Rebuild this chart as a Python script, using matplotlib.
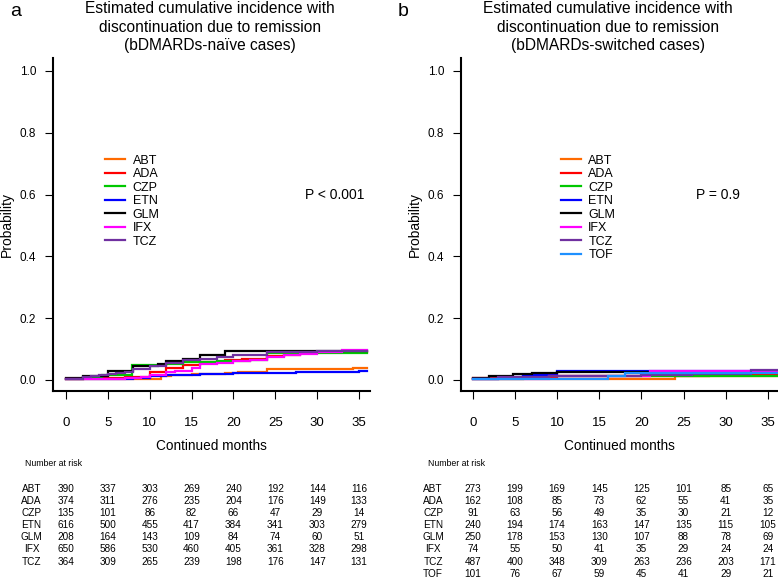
import matplotlib
matplotlib.use("Agg")
import matplotlib.pyplot as plt
import matplotlib.transforms as mtransforms

plt.rcParams['font.family'] = ['Liberation Sans', 'DejaVu Sans']

# ---- data ----
months_ticks = [0, 5, 10, 15, 20, 25, 30, 35]
prob_ticks = [0.0, 0.2, 0.4, 0.6, 0.8, 1.0]

drugs_a = ["ABT", "ADA", "CZP", "ETN", "GLM", "IFX", "TCZ"]
drugs_b = ["ABT", "ADA", "CZP", "ETN", "GLM", "IFX", "TCZ", "TOF"]

colors = {"ABT": "#FF6A00", "ADA": "#FF0000", "CZP": "#00C800", "ETN": "#0000FF",
          "GLM": "#000000", "IFX": "#FF00FF", "TCZ": "#7030A0", "TOF": "#1E90FF"}

# naive cases: step times (months) and cumulative incidence
abt_a_t = [0, 11.3, 12.5, 15, 19, 20.5, 24, 34.3]
abt_a_p = [0.002, 0.011, 0.016, 0.02, 0.022, 0.025, 0.036, 0.04]
ada_a_t = [0, 2, 7, 10, 12, 14, 16, 19, 21, 24, 26, 28]
ada_a_p = [0.002, 0.005, 0.01, 0.024, 0.039, 0.048, 0.058, 0.063, 0.068, 0.076, 0.081, 0.09]
czp_a_t = [0, 2, 4.3, 7.9, 12, 14, 18, 22, 24]
czp_a_p = [0.002, 0.008, 0.016, 0.049, 0.053, 0.058, 0.061, 0.065, 0.086]
etn_a_t = [0, 5, 8, 10, 12, 16, 20, 27.5, 35]
etn_a_p = [0.002, 0.004, 0.007, 0.011, 0.016, 0.019, 0.021, 0.025, 0.03]
glm_a_t = [0, 2, 5, 8, 11, 12, 14, 16, 19]
glm_a_p = [0.005, 0.012, 0.03, 0.044, 0.05, 0.06, 0.068, 0.08, 0.094]
ifx_a_t = [0, 7, 9, 10, 12, 13, 15, 16, 18, 20, 22, 24, 26, 28, 30, 33]
ifx_a_p = [0.002, 0.005, 0.01, 0.015, 0.025, 0.03, 0.04, 0.05, 0.055, 0.06, 0.065, 0.075, 0.08, 0.085, 0.09, 0.098]
tcz_a_t = [0, 1, 2, 3, 4, 5, 6, 7, 8, 10, 12, 14, 16, 18, 20, 24, 30]
tcz_a_p = [0.002, 0.004, 0.008, 0.012, 0.015, 0.018, 0.022, 0.026, 0.036, 0.045, 0.055, 0.063,
           0.068, 0.074, 0.081, 0.09, 0.095]

# switched cases
abt_b_t = [0, 24]
abt_b_p = [0.003, 0.012]
ada_b_t = [0, 10, 28]
ada_b_p = [0.006, 0.012, 0.018]
czp_b_t = [0, 6, 26]
czp_b_p = [0.004, 0.012, 0.013]
etn_b_t = [0, 3, 6, 10]
etn_b_p = [0.003, 0.008, 0.015, 0.028]
glm_b_t = [0, 1.9, 4.8, 7, 10]
glm_b_p = [0.006, 0.014, 0.019, 0.022, 0.025]
ifx_b_t = [0, 9, 21]
ifx_b_p = [0.003, 0.012, 0.030]
tcz_b_t = [0, 3, 9, 20, 26, 33]
tcz_b_p = [0.003, 0.008, 0.012, 0.016, 0.018, 0.033]
tof_b_t = [0, 16, 18]
tof_b_p = [0.003, 0.011, 0.022]

curves_a = {"ABT": (abt_a_t, abt_a_p), "ADA": (ada_a_t, ada_a_p), "CZP": (czp_a_t, czp_a_p),
            "ETN": (etn_a_t, etn_a_p), "GLM": (glm_a_t, glm_a_p), "IFX": (ifx_a_t, ifx_a_p),
            "TCZ": (tcz_a_t, tcz_a_p)}
curves_b = {"ABT": (abt_b_t, abt_b_p), "ADA": (ada_b_t, ada_b_p), "CZP": (czp_b_t, czp_b_p),
            "ETN": (etn_b_t, etn_b_p), "GLM": (glm_b_t, glm_b_p), "IFX": (ifx_b_t, ifx_b_p),
            "TCZ": (tcz_b_t, tcz_b_p), "TOF": (tof_b_t, tof_b_p)}

# number at risk
risk_a = {"ABT": [390, 337, 303, 269, 240, 192, 144, 116],
          "ADA": [374, 311, 276, 235, 204, 176, 149, 133],
          "CZP": [135, 101, 86, 82, 66, 47, 29, 14],
          "ETN": [616, 500, 455, 417, 384, 341, 303, 279],
          "GLM": [208, 164, 143, 109, 84, 74, 60, 51],
          "IFX": [650, 586, 530, 460, 405, 361, 328, 298],
          "TCZ": [364, 309, 265, 239, 198, 176, 147, 131]}
risk_b = {"ABT": [273, 199, 169, 145, 125, 101, 85, 65],
          "ADA": [162, 108, 85, 73, 62, 55, 41, 35],
          "CZP": [91, 63, 56, 49, 35, 30, 21, 12],
          "ETN": [240, 194, 174, 163, 147, 135, 115, 105],
          "GLM": [250, 178, 153, 130, 107, 88, 78, 69],
          "IFX": [74, 55, 50, 41, 35, 29, 24, 24],
          "TCZ": [487, 400, 348, 309, 263, 236, 203, 171],
          "TOF": [101, 76, 67, 59, 45, 41, 29, 21]}

titles = ["Estimated cumulative incidence with\ndiscontinuation due to remission\n(bDMARDs-naïve cases)",
          "Estimated cumulative incidence with\ndiscontinuation due to remission\n(bDMARDs-switched cases)"]
pvals = ["P < 0.001", "P = 0.9"]

W, H = 778, 580
fig = plt.figure(figsize=(W / 100, H / 100), dpi=100)


def px(x0, y0, x1, y1):
    return [x0 / W, 1 - y1 / H, (x1 - x0) / W, (y1 - y0) / H]


ax_a = fig.add_axes(px(53, 58, 370, 391))
ax_b = fig.add_axes(px(461, 58, 778, 391))


def panel(ax, curves, drugs, risk, tend, xlim, title, letter, tcx, pval, pvx,
          leg_anchor, name_x):
    for d in drugs:
        t, p = curves[d]
        ax.step(list(t) + [tend], list(p) + [p[-1]], where="post", color=colors[d],
                lw=1.6, label=d, solid_joinstyle="miter")
    ax.set_xlim(*xlim)
    ax.set_ylim(-0.036, 1.042)
    ax.set_xticks(months_ticks)
    ax.set_yticks(prob_ticks)
    ax.set_yticklabels(["%.1f" % v for v in prob_ticks])
    ax.spines["top"].set_visible(False)
    ax.spines["right"].set_visible(False)
    ax.spines["left"].set_linewidth(1.5)
    ax.spines["bottom"].set_linewidth(1.5)
    ax.tick_params(axis="x", length=6, width=0.8, labelsize=9.5, pad=13)
    ax.tick_params(axis="y", length=6, width=0.8, labelsize=8.5, pad=6)
    ax.set_xlabel("Continued months", fontsize=9.8, labelpad=7)
    ax.set_ylabel("Probability", fontsize=10)

    fig.text(tcx / W, 1 - 1 / H, title, ha="center", va="top", fontsize=11.2,
             linespacing=1.3)
    fig.text(letter[0] / W, 1 - letter[1] / H, letter[2], ha="left", va="center",
             fontsize=14)

    ax.legend(loc="upper left", bbox_to_anchor=leg_anchor, frameon=False,
              fontsize=9, handlelength=1.6, handletextpad=0.6, labelspacing=0.12,
              borderaxespad=0, borderpad=0)
    ax.text(pvx, 0.6, pval, fontsize=10, ha="left", va="center")

    tr = mtransforms.blended_transform_factory(ax.transData, fig.transFigure)
    fig.text(name_x[1], 1 - 464 / H, "Number at risk", fontsize=6.3, ha="left",
             va="center")
    for i, d in enumerate(drugs):
        y = 1 - (489 + i * 12.1) / H
        ax.text(name_x[0], y, d, transform=tr, fontsize=7.2, ha="center",
                va="center", clip_on=False)
        for m, n in zip(months_ticks, risk[d]):
            ax.text(m, y, str(n), transform=tr, fontsize=7.2, ha="center",
                    va="center", clip_on=False)


panel(ax_a, curves_a, drugs_a, risk_a, 36, (-1.55, 36.3), titles[0],
      (10, 12, "a"), 210, pvals[0], 28.5, (0.165, 0.71), (-4.1, 25 / W))
panel(ax_b, curves_b, drugs_b, risk_b, 37, (-1.39, 36.2), titles[1],
      (398, 12, "b"), 608, pvals[1], 26.5, (0.315, 0.71), (-4.7, 428 / W))

fig.savefig("out.png", dpi=100)
